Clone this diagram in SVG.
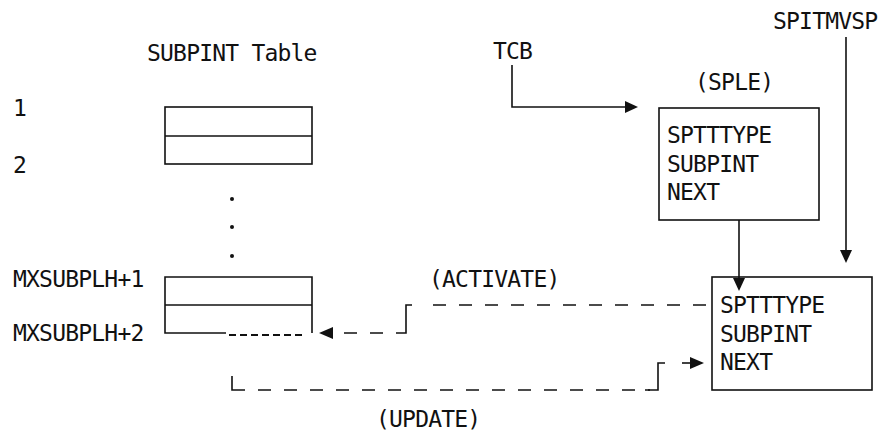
<svg xmlns="http://www.w3.org/2000/svg" width="880" height="434" viewBox="0 0 880 434">
<style>
text{font-family:"DejaVu Sans Mono","Liberation Mono",monospace;font-size:23px;letter-spacing:-0.8px;fill:#111}
.s{fill:none;stroke:#111;stroke-width:1.6}
.d{fill:none;stroke:#111;stroke-width:1.6;stroke-dasharray:13 13}
.sd{fill:none;stroke:#111;stroke-width:2;stroke-dasharray:7 4}
.a{fill:#111}
</style>
<rect width="880" height="434" fill="#fff"/>
<g id="labels">
<text x="147" y="61">SUBPINT Table</text>
<text x="13" y="116">1</text>
<text x="13" y="173">2</text>
<text x="13" y="287">MXSUBPLH+1</text>
<text x="13" y="341">MXSUBPLH+2</text>
<text x="493" y="59">TCB</text>
<text x="773" y="29">SPITMVSP</text>
<text x="695" y="90">(SPLE)</text>
<text x="429" y="287">(ACTIVATE)</text>
<text x="376" y="427">(UPDATE)</text>
</g>
<g id="table-top">
<rect class="s" x="165" y="107" width="147" height="57"/>
<line class="s" x1="165" y1="136" x2="312" y2="136"/>
</g>
<g id="dots">
<circle class="a" cx="232" cy="199" r="2"/>
<circle class="a" cx="232" cy="227" r="2"/>
<circle class="a" cx="232" cy="256" r="2"/>
</g>
<g id="table-bottom">
<path class="s" d="M226,333 H165 V277 H312 V333"/>
<line class="s" x1="165" y1="305" x2="312" y2="305"/>
<line class="sd" x1="229" y1="335" x2="304" y2="335"/>
</g>
<g id="sple">
<rect class="s" x="659" y="108" width="160" height="112"/>
<text x="667" y="143">SPTTTYPE</text>
<text x="667" y="172">SUBPINT</text>
<text x="667" y="200">NEXT</text>
</g>
<g id="sple2">
<rect class="s" x="712" y="277" width="160" height="113"/>
<text x="720" y="313">SPTTTYPE</text>
<text x="720" y="342">SUBPINT</text>
<text x="720" y="370">NEXT</text>
</g>
<g id="connectors">
<path class="s" d="M512,65 V107 H626"/>
<polygon class="a" points="625,101 638,107 625,113"/>
<path class="s" d="M846,37 V251"/>
<polygon class="a" points="840,250 846,263 852,250"/>
<path class="s" d="M739,220 V279"/>
<polygon class="a" points="733,278 739,291 745,278"/>
<path class="d" d="M706,305 H420"/>
<path class="s" d="M412,305 H406 V333 H396"/>
<path class="d" d="M383,333 H333"/>
<polygon class="a" points="333,327 319,333 333,339"/>
<path class="s" d="M232,376 V390 H245"/>
<path class="d" d="M258,390 H650"/>
<path class="s" d="M645,390 H658 V363 H665"/>
<path class="s" d="M682,363 H691"/>
<polygon class="a" points="690,357 704,363 690,369"/>
</g>
</svg>
